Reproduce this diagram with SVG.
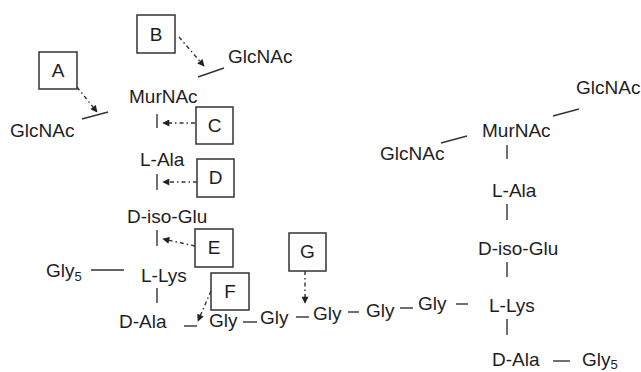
<svg xmlns="http://www.w3.org/2000/svg" width="641" height="372" viewBox="0 0 641 372">
  <defs>
    <style>
      text { font-family: "Liberation Sans", Arial, sans-serif; font-size: 19px; fill: #1e1e1e; }
      .lbl { text-anchor: middle; }
      .sub { font-size: 13px; }
      .box { fill: #fff; stroke: #333; stroke-width: 1.5; }
      .bond { stroke: #333; stroke-width: 1.4; fill: none; }
      .act { stroke: #333; stroke-width: 1.4; fill: none; stroke-dasharray: 4 3 1.5 3; marker-end: url(#head); }
    </style>
    <marker id="head" viewBox="0 0 10 10" refX="9" refY="5" markerWidth="8" markerHeight="7" markerUnits="userSpaceOnUse" orient="auto">
      <path d="M0,0 L10,5 L0,10 z" fill="#222"/>
    </marker>
  </defs>
  <rect width="641" height="372" fill="#fff"/>

  <!-- bonds and enzyme action arrows -->
  <g id="connectors">
    <!-- left unit bonds -->
    <line class="bond" x1="198" y1="77" x2="224" y2="68"/>
    <line class="bond" x1="82" y1="119" x2="108" y2="112"/>
    <line class="bond" x1="157" y1="114" x2="157" y2="128"/>
    <line class="bond" x1="157" y1="174" x2="157" y2="190"/>
    <line class="bond" x1="157" y1="230" x2="157" y2="246"/>
    <line class="bond" x1="91" y1="270" x2="124" y2="270"/>
    <line class="bond" x1="157" y1="288" x2="157" y2="303"/>
    <line class="bond" x1="184" y1="326" x2="197" y2="326"/>
    <!-- pentaglycine bridge -->
    <line class="bond" x1="243" y1="322" x2="257" y2="322"/>
    <line class="bond" x1="296" y1="317" x2="309" y2="317"/>
    <line class="bond" x1="348" y1="312" x2="359" y2="312"/>
    <line class="bond" x1="400" y1="308" x2="413" y2="308"/>
    <line class="bond" x1="456" y1="304" x2="468" y2="304"/>
    <!-- right unit bonds -->
    <line class="bond" x1="553" y1="116" x2="579" y2="109"/>
    <line class="bond" x1="441" y1="143" x2="467" y2="136"/>
    <line class="bond" x1="507" y1="145" x2="507" y2="159"/>
    <line class="bond" x1="507" y1="204" x2="507" y2="220"/>
    <line class="bond" x1="507" y1="262" x2="507" y2="277"/>
    <line class="bond" x1="507" y1="319" x2="507" y2="335"/>
    <line class="bond" x1="553" y1="361" x2="570" y2="361"/>
    <!-- cleavage sites -->
    <line class="act" x1="179" y1="37" x2="204" y2="66"/>
    <line class="act" x1="77" y1="87" x2="97" y2="112"/>
    <line class="act" x1="195" y1="123" x2="163" y2="123"/>
    <line class="act" x1="197" y1="182" x2="163" y2="182"/>
    <line class="act" x1="195" y1="246" x2="163" y2="239"/>
    <line class="act" x1="211" y1="291" x2="198" y2="321"/>
    <line class="act" x1="305" y1="271" x2="305" y2="303"/>
  </g>

  <!-- enzyme boxes -->
  <g id="enzA"><rect class="box" x="39" y="52" width="38" height="37"/><text class="lbl" x="58" y="77">A</text></g>
  <g id="enzB"><rect class="box" x="137" y="15" width="38" height="38"/><text class="lbl" x="156" y="41">B</text></g>
  <g id="enzC"><rect class="box" x="196" y="107" width="37" height="37"/><text class="lbl" x="214.5" y="132">C</text></g>
  <g id="enzD"><rect class="box" x="197" y="159" width="37" height="38"/><text class="lbl" x="215.5" y="184">D</text></g>
  <g id="enzE"><rect class="box" x="195" y="229" width="38" height="38"/><text class="lbl" x="214" y="254">E</text></g>
  <g id="enzF"><rect class="box" x="211" y="273" width="38" height="37"/><text class="lbl" x="230" y="298">F</text></g>
  <g id="enzG"><rect class="box" x="289" y="233" width="37" height="38"/><text class="lbl" x="307.5" y="258">G</text></g>

  <!-- left muropeptide -->
  <g id="glcnac-l1"><text x="228" y="63">GlcNAc</text></g>
  <g id="glcnac-l2"><text x="10" y="137">GlcNAc</text></g>
  <g id="murnac-l"><text x="129" y="103">MurNAc</text></g>
  <g id="lala-l"><text x="140" y="166">L-Ala</text></g>
  <g id="diso-l"><text x="127" y="223">D-iso-Glu</text></g>
  <g id="gly5-l"><text x="46" y="277">Gly<tspan class="sub" dy="4">5</tspan></text></g>
  <g id="llys-l"><text x="141" y="282">L-Lys</text></g>
  <g id="dala-l"><text x="119" y="328">D-Ala</text></g>

  <!-- pentaglycine bridge -->
  <g id="gly1"><text x="209" y="327">Gly</text></g>
  <g id="gly2"><text x="260" y="324">Gly</text></g>
  <g id="gly3"><text x="313" y="320">Gly</text></g>
  <g id="gly4"><text x="366" y="317">Gly</text></g>
  <g id="gly5"><text x="418" y="310">Gly</text></g>

  <!-- right muropeptide -->
  <g id="glcnac-r1"><text x="576" y="94">GlcNAc</text></g>
  <g id="glcnac-r2"><text x="380" y="160">GlcNAc</text></g>
  <g id="murnac-r"><text x="482" y="137">MurNAc</text></g>
  <g id="lala-r"><text x="492" y="197">L-Ala</text></g>
  <g id="diso-r"><text x="478" y="255">D-iso-Glu</text></g>
  <g id="llys-r"><text x="489" y="312">L-Lys</text></g>
  <g id="dala-r"><text x="492" y="366">D-Ala</text></g>
  <g id="gly5-r"><text x="582" y="366">Gly<tspan class="sub" dy="3">5</tspan></text></g>
</svg>
